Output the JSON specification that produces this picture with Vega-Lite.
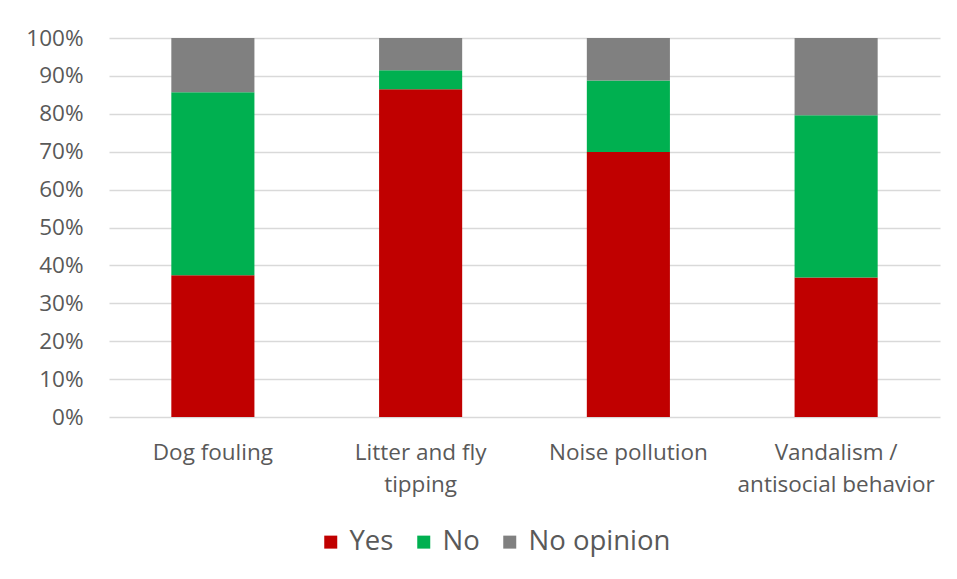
{
  "$schema": "https://vega.github.io/schema/vega-lite/v6.json",
  "width": 831,
  "height": 379,
  "autosize": {"type": "none"},
  "padding": {"left": 109, "top": 38, "right": 17, "bottom": 162},
  "background": "white",
  "data": {
    "values": [
      {"issue": "Dog fouling", "answer": "Yes", "order": 1, "pct": 0.374},
      {"issue": "Dog fouling", "answer": "No", "order": 2, "pct": 0.483},
      {"issue": "Dog fouling", "answer": "No opinion", "order": 3, "pct": 0.143},
      {"issue": "Litter and fly tipping", "answer": "Yes", "order": 1, "pct": 0.865},
      {"issue": "Litter and fly tipping", "answer": "No", "order": 2, "pct": 0.05},
      {"issue": "Litter and fly tipping", "answer": "No opinion", "order": 3, "pct": 0.085},
      {"issue": "Noise pollution", "answer": "Yes", "order": 1, "pct": 0.699},
      {"issue": "Noise pollution", "answer": "No", "order": 2, "pct": 0.189},
      {"issue": "Noise pollution", "answer": "No opinion", "order": 3, "pct": 0.112},
      {"issue": "Vandalism / antisocial behavior", "answer": "Yes", "order": 1, "pct": 0.368},
      {"issue": "Vandalism / antisocial behavior", "answer": "No", "order": 2, "pct": 0.428},
      {"issue": "Vandalism / antisocial behavior", "answer": "No opinion", "order": 3, "pct": 0.204}
    ]
  },
  "mark": {"type": "bar"},
  "encoding": {
    "x": {
      "field": "issue",
      "type": "nominal",
      "sort": null,
      "scale": {"paddingInner": 0.6, "paddingOuter": 0.3},
      "axis": {
        "title": null,
        "labelAngle": 0,
        "domain": false,
        "ticks": false,
        "labelPadding": 24,
        "labelLimit": 400,
        "labelFont": "Open Sans",
        "labelFontSize": 22.5,
        "labelColor": "#595959",
        "labelLineHeight": 32,
        "labelBaseline": "top",
        "labelExpr": "datum.label == 'Litter and fly tipping' ? ['Litter and fly', 'tipping'] : datum.label == 'Vandalism / antisocial behavior' ? ['Vandalism /', 'antisocial behavior'] : datum.label"
      }
    },
    "y": {
      "field": "pct",
      "type": "quantitative",
      "stack": "zero",
      "scale": {"domain": [0, 1], "nice": false},
      "axis": {
        "title": null,
        "format": ".0%",
        "values": [0, 0.1, 0.2, 0.3, 0.4, 0.5, 0.6, 0.7, 0.8, 0.9, 1.0],
        "domain": false,
        "ticks": false,
        "labelPadding": 26,
        "labelFont": "Open Sans",
        "labelFontSize": 22.5,
        "labelColor": "#595959",
        "gridColor": "#d9d9d9",
        "gridWidth": 1.5
      }
    },
    "color": {
      "field": "answer",
      "type": "nominal",
      "sort": ["Yes", "No", "No opinion"],
      "scale": {"domain": ["Yes", "No", "No opinion"], "range": ["#C00000", "#00B050", "#808080"]},
      "legend": {
        "title": null,
        "orient": "none",
        "direction": "horizontal",
        "legendX": 208,
        "legendY": 490,
        "symbolType": "square",
        "symbolSize": 169,
        "symbolStrokeWidth": 0,
        "labelFont": "Open Sans",
        "labelFontSize": 27.5,
        "labelColor": "#595959",
        "labelOffset": 5,
        "columnPadding": 16
      }
    },
    "order": {"field": "order", "type": "quantitative"}
  },
  "config": {"view": {"stroke": null}}
}
